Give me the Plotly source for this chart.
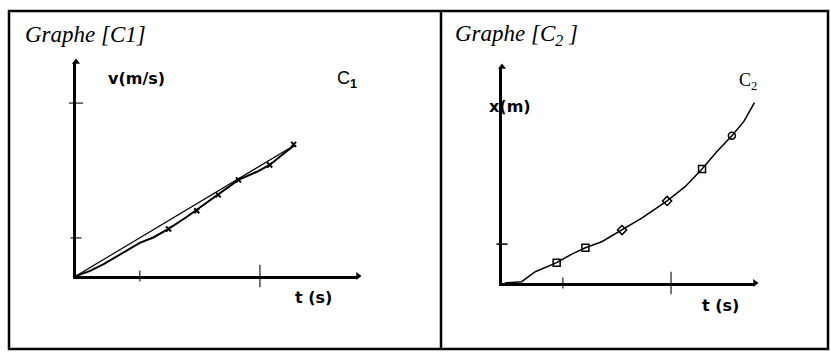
import plotly.graph_objects as go

# canvas size in px
W, H = 831, 352

# graph C1 : v(t), measured line + straight line
c1_t = [0.0, 0.23, 0.45, 0.72, 1.04, 1.26, 1.51, 1.81, 2.08, 2.32, 2.65, 2.95, 3.16, 3.36, 3.57]
c1_v = [0.0, 0.24, 0.55, 1.02, 1.55, 1.80, 2.20, 2.77, 3.32, 3.79, 4.49, 4.87, 5.19, 5.65, 6.12]
c1_fit_t = [0.0, 3.57]
c1_fit_v = [0.0, 6.12]
c1_pts_t = [1.51, 1.97, 2.32, 2.65, 3.16, 3.55]
c1_pts_v = [2.20, 3.05, 3.79, 4.49, 5.19, 6.15]
c1_xticks = [1.04, 3.0]
c1_yticks = [1.78, 8.08]

# graph C2 : x(t)
c2_t = [0.05, 0.35, 0.59, 0.97, 1.24, 1.48, 1.77, 2.13, 2.48, 2.93, 3.25, 3.55, 3.81, 4.08, 4.29, 4.48]
c2_x = [0.0, 0.06, 0.52, 0.94, 1.34, 1.63, 1.91, 2.45, 3.00, 3.80, 4.46, 5.28, 6.08, 6.82, 7.47, 8.35]
c2_pts_t = [0.97, 1.48, 2.13, 2.93, 3.55, 4.08]
c2_pts_x = [0.94, 1.63, 2.45, 3.80, 5.28, 6.82]
c2_pts_sym = ['square-open', 'square-open', 'diamond-open', 'diamond-open', 'square-open', 'circle-open']
c2_xticks = [1.08, 3.0]
c2_yticks = [1.8]

# axis extents
c1_trange, c1_vrange = [0, 4.6], [0, 10]
c2_trange, c2_xrange = [0, 4.49], [0, 10]


def px(x):
    return x / W


def py(y):
    return 1 - y / H


fig = go.Figure()

# C1
fig.add_trace(go.Scatter(x=c1_fit_t, y=c1_fit_v, mode='lines', line=dict(color='black', width=1.2),
                         xaxis='x', yaxis='y'))
fig.add_trace(go.Scatter(x=c1_t, y=c1_v, mode='lines', line=dict(color='black', width=2),
                         xaxis='x', yaxis='y'))
fig.add_trace(go.Scatter(x=c1_pts_t, y=c1_pts_v, mode='markers',
                         marker=dict(symbol='x-thin-open', size=5, color='black',
                                     line=dict(color='black', width=2)),
                         xaxis='x', yaxis='y'))
# ticks + arrows C1
fig.add_trace(go.Scatter(x=c1_xticks, y=[0] * len(c1_xticks), mode='markers', cliponaxis=False,
                         marker=dict(symbol='line-ns', size=[8, 16], color='black',
                                     line=dict(color='black', width=1.5)),
                         xaxis='x', yaxis='y'))
fig.add_trace(go.Scatter(x=[0] * len(c1_yticks), y=c1_yticks, mode='markers', cliponaxis=False,
                         marker=dict(symbol='line-ew', size=[8, 10], color='black',
                                     line=dict(color='black', width=1.5)),
                         xaxis='x', yaxis='y'))
fig.add_trace(go.Scatter(x=[0, c1_trange[1]], y=[c1_vrange[1], 0], mode='markers', cliponaxis=False,
                         marker=dict(symbol=['triangle-up', 'triangle-right'], size=7, color='black'),
                         xaxis='x', yaxis='y'))

# C2
fig.add_trace(go.Scatter(x=c2_t, y=c2_x, mode='lines', line=dict(color='black', width=1.5),
                         xaxis='x2', yaxis='y2'))
fig.add_trace(go.Scatter(x=c2_pts_t, y=c2_pts_x, mode='markers', cliponaxis=False,
                         marker=dict(symbol=c2_pts_sym, size=7, color='black',
                                     line=dict(color='black', width=1.5)),
                         xaxis='x2', yaxis='y2'))
fig.add_trace(go.Scatter(x=c2_xticks, y=[0] * len(c2_xticks), mode='markers', cliponaxis=False,
                         marker=dict(symbol='line-ns', size=[8, 16], color='black',
                                     line=dict(color='black', width=1.5)),
                         xaxis='x2', yaxis='y2'))
fig.add_trace(go.Scatter(x=[0] * len(c2_yticks), y=c2_yticks, mode='markers', cliponaxis=False,
                         marker=dict(symbol='line-ew', size=8, color='black',
                                     line=dict(color='black', width=1.5)),
                         xaxis='x2', yaxis='y2'))
fig.add_trace(go.Scatter(x=[0, c2_trange[1]], y=[c2_xrange[1], 0], mode='markers', cliponaxis=False,
                         marker=dict(symbol=['triangle-up', 'triangle-right'], size=7, color='black'),
                         xaxis='x2', yaxis='y2'))

axis_style = dict(showline=True, linecolor='black', linewidth=3, showgrid=False, zeroline=False,
                  showticklabels=False, ticks='', fixedrange=True)

fig.update_layout(
    width=W, height=H, margin=dict(l=0, r=0, t=0, b=0),
    paper_bgcolor='white', plot_bgcolor='white', showlegend=False,
    xaxis=dict(domain=[px(76), px(358)], range=c1_trange, anchor='y', **axis_style),
    yaxis=dict(domain=[py(276), py(62)], range=c1_vrange, anchor='x', **axis_style),
    xaxis2=dict(domain=[px(502), px(755)], range=c2_trange, anchor='y2', **axis_style),
    yaxis2=dict(domain=[py(283), py(67)], range=c2_xrange, anchor='x2', **axis_style),
)

# table frame
fig.add_shape(type='rect', xref='paper', yref='paper', x0=px(9), x1=px(828), y0=py(349), y1=py(11),
              line=dict(color='black', width=2.5))
fig.add_shape(type='line', xref='paper', yref='paper', x0=px(441), x1=px(441), y0=py(349), y1=py(11),
              line=dict(color='black', width=2.5))

title_font = dict(family='Liberation Serif', size=23, color='black', style='italic')
fig.add_annotation(text='Graphe [C1]', xref='paper', yref='paper', x=px(23), y=py(35),
                   xanchor='left', yanchor='middle', showarrow=False, font=title_font)
fig.add_annotation(text='Graphe [C<sub>2</sub> ]', xref='paper', yref='paper', x=px(453), y=py(35),
                   xanchor='left', yanchor='middle', showarrow=False, font=title_font)

lab = dict(family='DejaVu Sans', size=16, color='black', weight='bold')
fig.add_annotation(text='v(m/s)', x=0.98, y=9.25, xref='x', yref='y', showarrow=False, font=lab)
fig.add_annotation(text='t (s)', x=3.88, y=py(297), xref='x', yref='paper', yanchor='middle',
                   showarrow=False, font=lab)
fig.add_annotation(text='C<sub><b>1</b></sub>', x=4.42, y=9.16, xref='x', yref='y', showarrow=False,
                   font=dict(family='Liberation Sans', size=18, color='black'))
fig.add_annotation(text='x(m)', x=0.14, y=8.15, xref='x2', yref='y2', showarrow=False, font=lab)
fig.add_annotation(text='t (s)', x=3.87, y=py(305), xref='x2', yref='paper', yanchor='middle',
                   showarrow=False, font=lab)
fig.add_annotation(text='C<sub>2</sub>', x=4.37, y=9.31, xref='x2', yref='y2', showarrow=False,
                   font=dict(family='Liberation Serif', size=18, color='black'))

# the page body has a default 8px margin, drop it so the figure sits at 0,0
fig.write_html("out.html", config={'displayModeBar': False},
               post_script="document.body.style.margin='0';")
